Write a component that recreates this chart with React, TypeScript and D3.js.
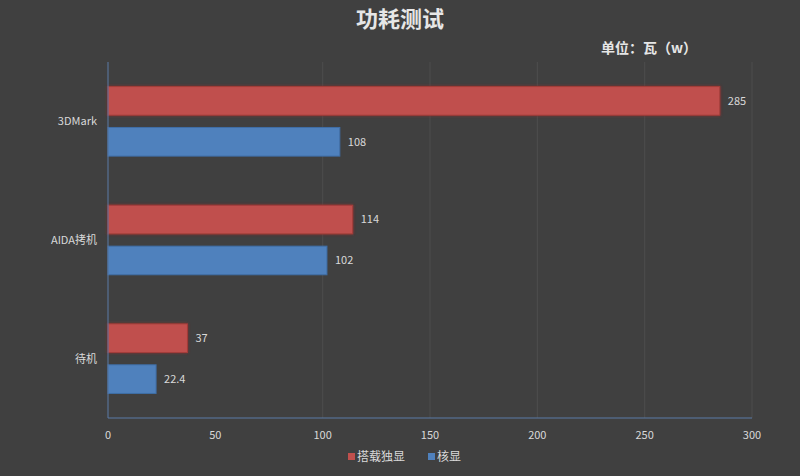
import React from 'react';
import * as d3 from 'd3';

// 功耗测试 data
const categories = ['3DMark', 'AIDA拷机', '待机'];
const seriesNames = ['搭载独显', '核显'];
const discreteValues = [285, 114, 37];
const integratedValues = [108, 102, 22.4];
const xTicks = [0, 50, 100, 150, 200, 250, 300];
const gridTicks = [100, 150, 200, 250, 300];

const colors = ['#c0504d', '#4f81bd'];
const strokes = ['#a33d3a', '#3f6ea6'];

const W = 800, H = 476;
const margin = { left: 108, right: 48, top: 62, bottom: 58 };
const FONT = '"Noto Sans CJK SC", "Noto Sans", sans-serif';

export default function App() {
  const x = d3.scaleLinear().domain([0, 300]).range([margin.left, W - margin.right]);
  const y = d3.scaleBand().domain(categories).range([margin.top, H - margin.bottom]);
  const inner = d3.scaleBand().domain(seriesNames).range([0, y.bandwidth()]).paddingInner(0.3).paddingOuter(0.6);

  const series = [discreteValues, integratedValues];
  const fmt = (v: number) => (Number.isInteger(v) ? String(v) : v.toFixed(1));

  return (
    <svg width={W} height={H} style={{ position: 'absolute', left: 0, top: 0, display: 'block' }}>
      <defs>
        <filter id="glow" x="-10%" y="-40%" width="120%" height="180%">
          <feGaussianBlur in="SourceAlpha" stdDeviation="2" />
          <feFlood floodColor="#8a2a28" floodOpacity="0.9" />
          <feComposite operator="in" in2="SourceAlpha" />
          <feGaussianBlur stdDeviation="1.5" />
          <feMerge>
            <feMergeNode />
            <feMergeNode in="SourceGraphic" />
          </feMerge>
        </filter>
      </defs>
      <rect width={W} height={H} fill="#404040" />

      <text x={W / 2} y={27} textAnchor="middle" fill="#e6e6e6" fontSize={22} fontWeight="bold" fontFamily={FONT}>功耗测试</text>
      <text x={601} y={53} fill="#e6e6e6" fontSize={14} fontWeight="bold" fontFamily={FONT}>单位：瓦（w）</text>

      {gridTicks.map(t => (
        <line key={t} x1={x(t)} x2={x(t)} y1={margin.top} y2={H - margin.bottom} stroke="#4d4d4d" strokeWidth={1} />
      ))}

      {categories.map((c, i) => (
        <g key={c}>
          {series.map((vals, s) => {
            const yy = (y(c) as number) + (inner(seriesNames[s]) as number);
            const h = inner.bandwidth();
            return (
              <g key={s}>
                <rect x={x(0)} y={yy} width={x(vals[i]) - x(0)} height={h} fill={colors[s]}
                  stroke={strokes[s]} strokeWidth={1} filter={s === 0 ? 'url(#glow)' : undefined} />
                <text x={x(vals[i]) + 8} y={yy + h / 2} dy="0.35em" fill="#d9d9d9" fontSize={11} fontFamily={FONT}>{fmt(vals[i])}</text>
              </g>
            );
          })}
          <text x={97} y={(y(c) as number) + y.bandwidth() / 2} dy="0.35em" textAnchor="end" fill="#d9d9d9" fontSize={11} fontFamily={FONT}>{c}</text>
        </g>
      ))}

      <line x1={x(0)} x2={x(0)} y1={margin.top} y2={H - margin.bottom} stroke="#5a7aa6" strokeWidth={1} />
      <line x1={x(0)} x2={x(300)} y1={H - margin.bottom} y2={H - margin.bottom} stroke="#5a7aa6" strokeWidth={1} />

      {xTicks.map(t => (
        <text key={t} x={x(t)} y={439} textAnchor="middle" fill="#d9d9d9" fontSize={11} fontFamily={FONT}>{t}</text>
      ))}

      {seriesNames.map((n, s) => {
        const lx = s === 0 ? 348 : 428;
        return (
          <g key={n}>
            <rect x={lx} y={453} width={7} height={7} fill={colors[s]} />
            <text x={lx + 9} y={461} fill="#d9d9d9" fontSize={12} fontFamily={FONT}>{n}</text>
          </g>
        );
      })}
    </svg>
  );
}
